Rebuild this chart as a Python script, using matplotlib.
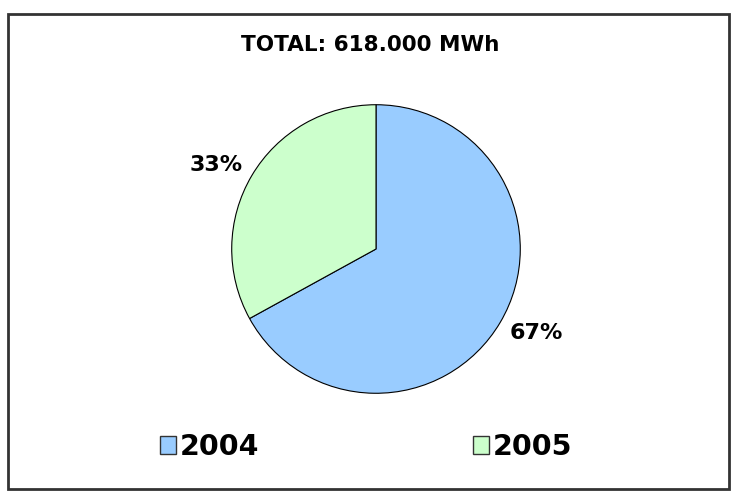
import numpy as np
import matplotlib
matplotlib.use("Agg")
import matplotlib.pyplot as plt
from matplotlib.patches import Rectangle, Patch

categories = ["2004", "2005"]
values = [67, 33]
colors = ["#99CCFF", "#CCFFCC"]
title = "TOTAL: 618.000 MWh"

fig = plt.figure(figsize=(7.35, 4.97), dpi=100)
fig.patch.set_facecolor("white")

# outer border
fig.patches.append(Rectangle((8/735, 8/497), 721/735, 475/497, transform=fig.transFigure,
                             fill=False, edgecolor="#333333", linewidth=2))

ax = fig.add_axes([231/735, 103/497, 290/735, 290/497])
wedges, texts, autotexts = ax.pie(values, colors=colors, startangle=90, counterclock=False,
                                  radius=1, autopct=lambda p: f"{p:.0f}%", pctdistance=1.25,
                                  wedgeprops=dict(edgecolor="black", linewidth=0.8))
for w, t in zip(wedges, autotexts):
    t.set_fontsize(16)
    t.set_fontweight("bold")
    mid = np.deg2rad((w.theta1 + w.theta2) / 2)
    # labels sit a little closer to the horizontal than the wedge middle
    ang = mid + np.deg2rad(3) * (-np.sign(np.sin(mid)) * np.sign(np.cos(mid)))
    t.set_position((1.25 * np.cos(ang), 1.25 * np.sin(ang)))
ax.set_xlim(-1.005, 1.005)
ax.set_ylim(-1.005, 1.005)
ax.set_aspect("equal")
ax.axis("off")

fig.text(370/735, 1 - 45/497, title, ha="center", va="center", fontsize=15.5, fontweight="bold")

handles = [Patch(facecolor=c, edgecolor="#333333", linewidth=1) for c in colors]
leg = fig.legend(handles, categories, loc="center", bbox_to_anchor=(366/735, 50/497), ncol=2,
                 frameon=False, prop=dict(size=20.5, weight="bold"), handlelength=0.56,
                 handleheight=0.56, handletextpad=0.15, columnspacing=7.5, borderpad=0)

fig.savefig("out.png", dpi=100, facecolor="white")
